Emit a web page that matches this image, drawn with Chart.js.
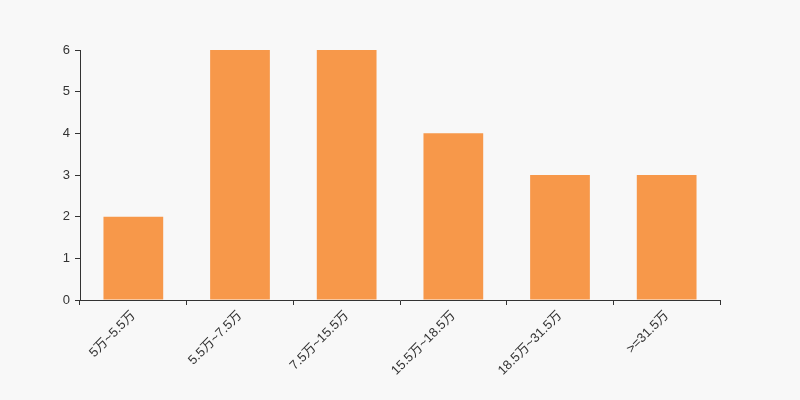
<!DOCTYPE html>
<html>
<head>
<meta charset="utf-8">
<script src="https://cdn.jsdelivr.net/npm/chart.js@4/dist/chart.umd.min.js"></script>
<style>
  html, body { margin: 0; padding: 0; background: #f8f8f8; }
  #wrap { width: 800px; height: 400px; }
</style>
</head>
<body>
<div id="wrap"><canvas id="myChart" width="800" height="400"></canvas></div>
<script>
const categories = ['5万~5.5万', '5.5万~7.5万', '7.5万~15.5万', '15.5万~18.5万', '18.5万~31.5万', '>=31.5万']
const counts = [2, 6, 6, 4, 3, 3]
const yTicks = [0, 1, 2, 3, 4, 5, 6]

const bgPlugin = {
  id: 'bg',
  beforeDraw(chart) {
    const ctx = chart.ctx
    ctx.save()
    ctx.fillStyle = '#f8f8f8'
    ctx.fillRect(0, 0, chart.width, chart.height)
    ctx.restore()
  }
}

const font = { family: "'Liberation Sans', 'Noto Sans CJK SC', sans-serif", size: 13 }

const ctx = document.getElementById('myChart').getContext('2d')
const myChart = new Chart(ctx, {
  type: 'bar',
  data: {
    labels: categories,
    datasets: [{
      data: counts,
      backgroundColor: '#f7984a',
      barPercentage: 0.56,
      categoryPercentage: 1
    }]
  },
  options: {
    responsive: false,
    animation: false,
    layout: { padding: { top: 50, right: 80, left: 0, bottom: 0 } },
    plugins: { legend: { display: false }, tooltip: { enabled: false } },
    scales: {
      x: {
        offset: true,
        grid: { offset: true, drawOnChartArea: false, drawTicks: true, tickLength: 5, color: '#333' },
        border: { color: '#333' },
        ticks: { color: '#333', font: font, minRotation: 45, maxRotation: 45, padding: 3, autoSkip: false },
        afterFit(scale) { scale.height = 100 }
      },
      y: {
        min: 0,
        max: 6,
        afterBuildTicks(scale) { scale.ticks = yTicks.map(v => ({ value: v })) },
        grid: { drawOnChartArea: false, drawTicks: true, tickLength: 5, color: '#333' },
        border: { color: '#333' },
        ticks: { color: '#333', font: font, padding: 5 },
        afterFit(scale) { scale.width = 80 }
      }
    }
  },
  plugins: [bgPlugin]
})
</script>
</body>
</html>
